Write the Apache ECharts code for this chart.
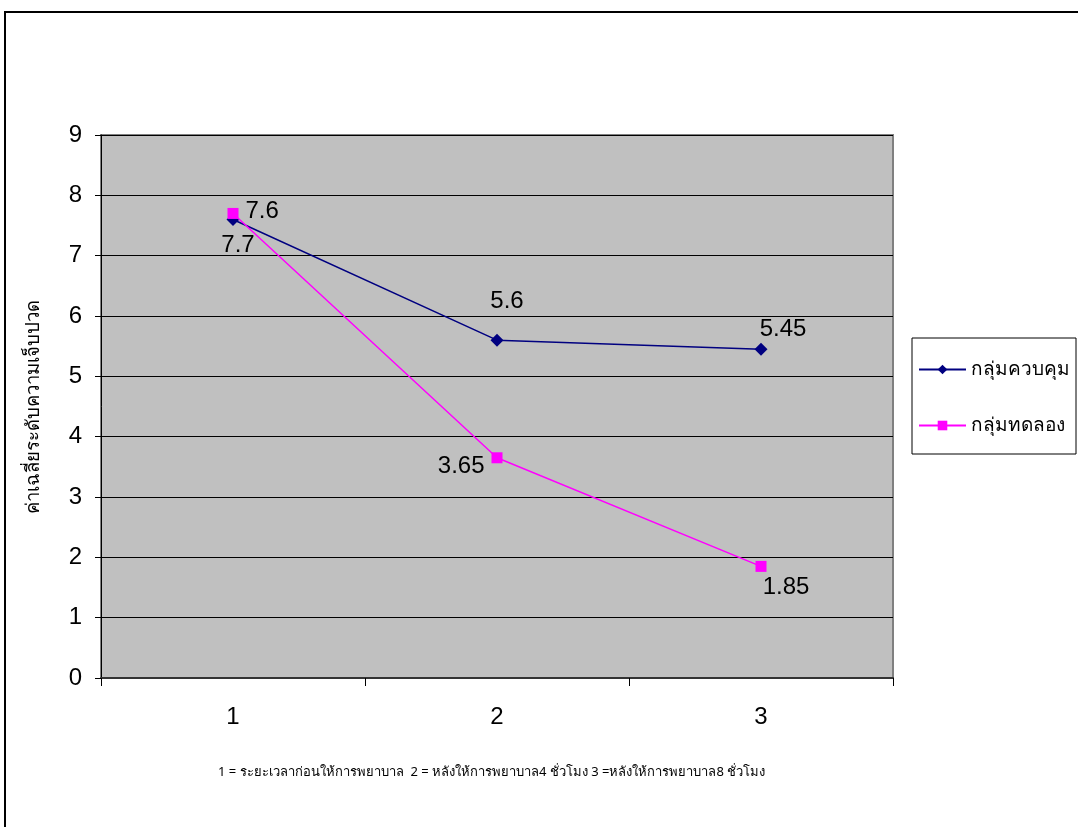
<!DOCTYPE html>
<html>
<head>
<meta charset="utf-8">
<script src="https://cdn.jsdelivr.net/npm/echarts@6/dist/echarts.min.js"></script>
<style>
  html, body { margin: 0; padding: 0; background: #ffffff; }
  #chart { width: 1078px; height: 827px; }
</style>
</head>
<body>
<div id="chart"></div>
<script>
// Time points (x axis) and mean pain score per group
const categories = ['1', '2', '3'];
const controlName = 'กลุ่มควบคุม';
const experimentName = 'กลุ่มทดลอง';
const controlValues = [7.6, 5.6, 5.45];
const experimentValues = [7.7, 3.65, 1.85];
const yTicks = [0, 1, 2, 3, 4, 5, 6, 7, 8, 9];
const yAxisTitle = 'ค่าเฉลี่ยระดับความเจ็บปวด';
const footnote = '1 = ระยะเวลาก่อนให้การพยาบาล  2 = หลังให้การพยาบาล4 ชั่วโมง 3 =หลังให้การพยาบาล8 ชั่วโมง';

const numFont = '"Liberation Sans", Arial, sans-serif';
const thaiFont = '"Noto Sans", "DejaVu Sans", sans-serif';

// Value-label placement for each point of each line
const controlLabelPlace = [
  { position: 'right', offset: [1, -8] },
  { position: 'top', offset: [10, -15] },
  { position: 'top', offset: [22, 4] }
];
const experimentLabelPlace = [
  { position: 'bottom', offset: [5, 9] },
  { position: 'left', offset: [-2, 9] },
  { position: 'bottom', offset: [25, -2] }
];

function withLabels(values, places) {
  return values.map((v, i) => ({
    value: v,
    label: { show: true, position: places[i].position, offset: places[i].offset }
  }));
}

const labelStyle = {
  show: true,
  color: '#000000',
  fontFamily: numFont,
  fontSize: 24,
  formatter: p => String(p.value)
};

const chart = echarts.init(document.getElementById('chart'), null, { renderer: 'canvas' });

chart.setOption({
  animation: false,
  backgroundColor: '#ffffff',
  grid: {
    left: 101, top: 135, right: 185, bottom: 149,
    show: true,
    backgroundColor: '#c0c0c0',
    borderColor: '#808080',
    borderWidth: 2
  },
  legend: {
    orient: 'vertical',
    left: 912,
    top: 338,
    width: 160,
    padding: [22, 6, 19, 6],
    itemGap: 37,
    itemWidth: 47,
    itemHeight: 12,
    borderColor: '#000000',
    borderWidth: 1,
    textStyle: { fontFamily: thaiFont, fontSize: 19, color: '#000000' },
    data: [controlName, experimentName]
  },
  xAxis: {
    type: 'category',
    data: categories,
    boundaryGap: true,
    axisLine: { show: true, lineStyle: { color: '#333333', width: 2 } },
    axisTick: { show: true, length: 8, lineStyle: { color: '#000000' } },
    axisLabel: { fontFamily: numFont, fontSize: 24, color: '#000000', margin: 27 },
    splitLine: { show: false }
  },
  yAxis: {
    type: 'value',
    min: 0,
    max: 9,
    interval: 1,
    name: yAxisTitle,
    nameLocation: 'middle',
    nameRotate: 90,
    nameGap: 58,
    nameTextStyle: { fontFamily: thaiFont, fontSize: 18.5, color: '#000000' },
    axisLine: { show: true, lineStyle: { color: '#000000', width: 1 } },
    axisTick: { show: true, length: 6, lineStyle: { color: '#000000' } },
    axisLabel: {
      fontFamily: numFont, fontSize: 24, color: '#000000', margin: 19,
      formatter: v => (yTicks.includes(v) ? String(v) : '')
    },
    splitLine: { show: true, lineStyle: { color: '#000000', width: 1 } }
  },
  series: [
    {
      name: controlName,
      type: 'line',
      data: withLabels(controlValues, controlLabelPlace),
      symbol: 'diamond',
      symbolSize: 13,
      color: '#000080',
      lineStyle: { color: '#000080', width: 1.5 },
      itemStyle: { color: '#000080' },
      label: labelStyle,
      z: 3
    },
    {
      name: experimentName,
      type: 'line',
      data: withLabels(experimentValues, experimentLabelPlace),
      symbol: 'rect',
      symbolSize: 11,
      color: '#ff00ff',
      lineStyle: { color: '#ff00ff', width: 1.5 },
      itemStyle: { color: '#ff00ff' },
      label: labelStyle,
      z: 4
    }
  ],
  graphic: [
    {
      type: 'polyline',
      shape: { points: [[5, 840], [5, 12], [1090, 12]] },
      style: { stroke: '#000000', lineWidth: 2, fill: null },
      silent: true
    },
    {
      type: 'text',
      left: 218,
      top: 766,
      style: {
        text: footnote,
        fontFamily: thaiFont,
        fontSize: 13,
        fill: '#000000'
      }
    }
  ]
});
</script>
</body>
</html>
